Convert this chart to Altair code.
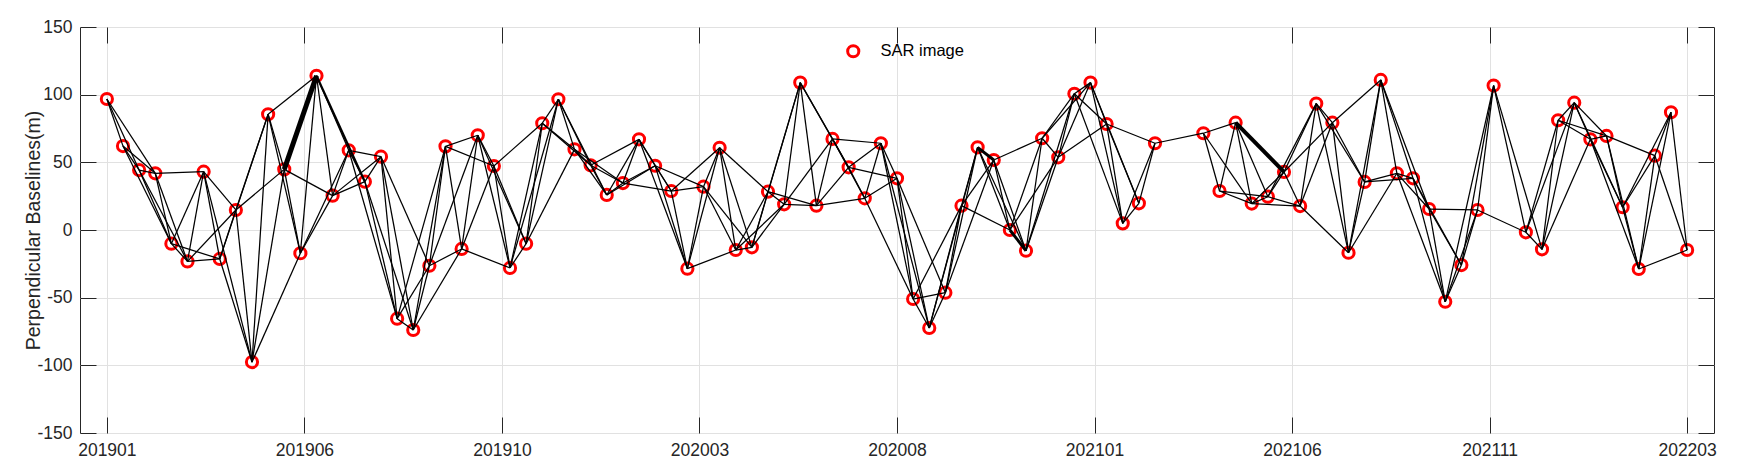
import json
import altair as alt
import pandas as pd

# Acquisition dates as day offsets from the first SAR image (~2019-01-10)
days = [
    0, 12, 24, 36, 48, 60, 72, 84, 96, 108,
    120, 132, 144, 156, 168, 180, 192, 204, 216, 228,
    240, 252, 264, 276, 288, 300, 312, 324, 336, 348,
    360, 372, 384, 396, 408, 420, 432, 444, 456, 468,
    480, 492, 504, 516, 528, 540, 552, 564, 576, 588,
    600, 612, 624, 636, 648, 660, 672, 684, 696, 708,
    720, 732, 744, 756, 768, 780, 816, 828, 840, 852,
    864, 876, 888, 900, 912, 924, 936, 948, 960, 972,
    984, 996, 1008, 1020, 1032, 1056, 1068, 1080, 1092, 1104,
    1116, 1128, 1140, 1152, 1164, 1176,
]

# Perpendicular baselines (m)
bperp = [
    96.8, 62.0, 44.3, 41.9, -10.1, -23.2, 43.1, -21.4, 14.8, -97.6,
    85.5, 44.8, -17.2, 114.0, 25.4, 58.9, 35.7, 54.2, -65.5, -73.9,
    -26.4, 61.8, -14.0, 70.0, 47.3, -28.0, -10.1, 78.9, 96.6, 59.6,
    47.8, 25.9, 34.7, 67.0, 47.5, 28.8, -28.6, 32.0, 60.8, -14.8,
    -12.8, 28.3, 19.0, 108.9, 18.0, 67.3, 46.3, 23.4, 64.1, 38.2,
    -51.0, -72.4, -46.3, 18.0, 61.1, 51.7, 0.0, -15.3, 67.8, 53.7,
    100.7, 108.9, 78.3, 4.9, 19.7, 64.1, 71.5, 28.8, 79.3, 19.5,
    24.6, 42.9, 17.7, 93.4, 79.3, -16.8, 35.5, 110.9, 41.9, 38.2,
    15.5, -53.0, -25.9, 14.8, 106.7, -1.7, -14.3, 81.1, 94.1, 67.0,
    69.5, 16.8, -28.8, 54.9, 87.0, -14.8,
]

# Interferometric pairs: all pairs within the maximum temporal baseline
max_temporal_baseline = 36
# pairs (1-based image numbers) drawn heavier in the reference (repeated pairs)
heavy_pairs = {(12, 14): 5.0, (14, 17): 2.2, (55, 56): 3.0, (57, 58): 3.0, (69, 72): 4.0}

tick_days = [0, 147, 294, 441, 588, 735, 882, 1029, 1176]
tick_labels = ["201901", "201906", "201910", "202003", "202008",
               "202101", "202106", "202111", "202203"]
y_ticks = [-150, -100, -50, 0, 50, 100, 150]

points_df = pd.DataFrame({"day": days, "bperp": bperp, "series": "SAR image"})

rows = []
n = len(days)
for i in range(n):
    for j in range(i + 1, n):
        if days[j] - days[i] <= max_temporal_baseline:
            w = heavy_pairs.get((i + 1, j + 1), 1.25)
            rows.append({"x1": days[i], "y1": bperp[i], "x2": days[j], "y2": bperp[j], "w": w})
edges_df = pd.DataFrame(rows)

FONT = "Liberation Sans"
TXT = "#262626"
label_expr = json.dumps(tick_labels) + "[round(datum.value / 147)]"

xscale = alt.Scale(domain=[-20, 1196], nice=False, zero=False)
yscale = alt.Scale(domain=[-150, 150], nice=False, zero=False)

def tick_axis(orient, values):
    return alt.Axis(orient=orient, values=values, offset=-16, tickSize=16, ticks=True,
                    tickColor=TXT, tickWidth=1, labels=False, domain=False, grid=False,
                    title=None)

points = alt.Chart(points_df).mark_point(
    shape="circle", filled=False, strokeWidth=3, size=125, opacity=1
).encode(
    x=alt.X("day:Q", scale=xscale,
            axis=alt.Axis(values=tick_days, labelExpr=label_expr, grid=True, ticks=False,
                          domain=False, title=None, labelFontSize=17.5, labelFont=FONT,
                          labelColor=TXT, labelPadding=8, labelFlush=False,
                          gridColor="#e1e1e1", gridWidth=1)),
    y=alt.Y("bperp:Q", scale=yscale,
            axis=alt.Axis(values=y_ticks, labelExpr="'' + datum.value", grid=True,
                          ticks=False, domain=False,
                          labelFontSize=17.5, labelFont=FONT, labelColor=TXT, labelPadding=8,
                          gridColor="#e1e1e1", gridWidth=1,
                          title="Perpendicular Baselines(m)", titleFont=FONT,
                          titleFontSize=19.5, titleFontWeight="normal", titleColor=TXT,
                          titleX=-47, titleY=203, titleAngle=-90, titleAlign="center",
                          titleBaseline="middle")),
    color=alt.Color("series:N",
                    scale=alt.Scale(domain=["SAR image"], range=["#ff0000"]),
                    legend=alt.Legend(orient="none", legendX=765, legendY=16, title=None,
                                      labelFontSize=16.5, labelFont=FONT, labelColor="#000000",
                                      symbolType="circle", symbolSize=125,
                                      symbolStrokeWidth=3, padding=0, labelOffset=19)),
)

edges = alt.Chart(edges_df).mark_rule(color="black").encode(
    x=alt.X("x1:Q", scale=xscale, axis=tick_axis("bottom", tick_days)),
    x2="x2:Q",
    y=alt.Y("y1:Q", scale=yscale, axis=tick_axis("left", y_ticks)),
    y2="y2:Q",
    strokeWidth=alt.StrokeWidth("w:Q", scale=None, legend=None),
)

frame = alt.Chart(points_df).mark_point(opacity=0).encode(
    x=alt.X("day:Q", scale=xscale, axis=tick_axis("top", tick_days)),
    y=alt.Y("bperp:Q", scale=yscale, axis=tick_axis("right", y_ticks)),
)

chart = alt.layer(points, edges, frame).resolve_axis(
    x="independent", y="independent"
).properties(
    width=1634, height=406,
    autosize=alt.AutoSizeParams(type="none"),
    padding={"left": 72, "top": 19, "right": 19, "bottom": 34},
    background="white",
).configure_view(stroke=TXT, strokeWidth=1)

chart.save("out.html", embed_options={"renderer": "svg", "actions": False})
